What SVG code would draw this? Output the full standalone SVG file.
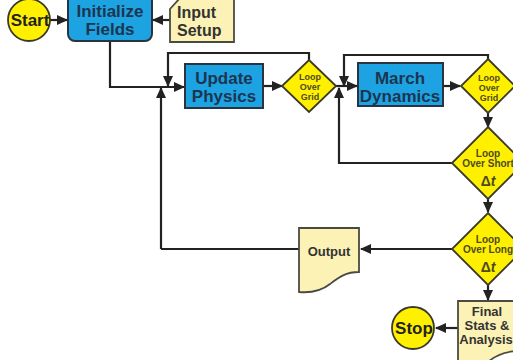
<svg xmlns="http://www.w3.org/2000/svg" width="513" height="360" viewBox="0 0 513 360">
<style>
.blue{fill:#1ea3e2;stroke:#2a3440;stroke-width:2}
.yel{fill:#fff000;stroke:#3a3a2a;stroke-width:1.8}
.pale{fill:#fcf2b5;stroke:#4a4a40;stroke-width:1.8}
.c{fill:none;stroke:#222;stroke-width:2.2}
.tb{font-family:"Liberation Sans",Arial,sans-serif;font-weight:bold;font-size:17px;fill:#1c3550;text-anchor:middle}
.tk{font-family:"Liberation Sans",Arial,sans-serif;font-weight:bold;fill:#222;text-anchor:middle}
.tp{font-family:"Liberation Sans",Arial,sans-serif;font-weight:bold;fill:#333;text-anchor:middle}
.ts{font-family:"Liberation Sans",Arial,sans-serif;font-weight:bold;font-size:16px;fill:#333;text-anchor:start}
.td{font-family:"Liberation Sans",Arial,sans-serif;font-weight:bold;fill:#4d4a22;text-anchor:middle}
</style>
<defs>
<marker id="ah" markerUnits="userSpaceOnUse" markerWidth="11" markerHeight="10" refX="10" refY="5" orient="auto">
<path d="M0,0 L11,5 L0,10 z" fill="#222"/>
</marker>
</defs>
<rect width="513" height="360" fill="#fff"/>
<g id="connectors">
<path class="c" d="M50,20 H67" marker-end="url(#ah)"/>
<path class="c" d="M170,20 H153" marker-end="url(#ah)"/>
<path class="c" d="M110,41 V87 H184" marker-end="url(#ah)"/>
<path class="c" d="M263,86 H282" marker-end="url(#ah)"/>
<path class="c" d="M309,60 V53 H168 V86" marker-end="url(#ah)"/>
<path class="c" d="M161,249 V88" marker-end="url(#ah)"/>
<path class="c" d="M336,86 H357" marker-end="url(#ah)"/>
<path class="c" d="M488,59 V55 H344 V86" marker-end="url(#ah)"/>
<path class="c" d="M443,86 H460" marker-end="url(#ah)"/>
<path class="c" d="M488,113 V127" marker-end="url(#ah)"/>
<path class="c" d="M452,163 H339 V88" marker-end="url(#ah)"/>
<path class="c" d="M488,199 V212" marker-end="url(#ah)"/>
<path class="c" d="M452,249 H361" marker-end="url(#ah)"/>
<path class="c" d="M299,249 H161"/>
<path class="c" d="M488,284 V300" marker-end="url(#ah)"/>
<path class="c" d="M458,328 H436" marker-end="url(#ah)"/>
</g>
<g id="start">
<circle cx="29" cy="20" r="21" class="yel"/>
<text class="tk" x="30" y="26" font-size="17">Start</text>
</g>
<g id="init">
<rect x="68" y="-6" width="84" height="47" rx="7" class="blue"/>
<text class="tb" x="110" y="17">Initialize</text>
<text class="tb" x="110" y="35">Fields</text>
</g>
<g id="input">
<path class="pale" d="M170,42 V9 L180,-2 H234 V42 Z"/>
<text class="ts" x="177" y="18">Input</text>
<text class="ts" x="177" y="36">Setup</text>
</g>
<g id="update">
<rect x="185" y="64" width="78" height="44" class="blue"/>
<text class="tb" x="224" y="84">Update</text>
<text class="tb" x="224" y="102">Physics</text>
</g>
<g id="grid1">
<path class="yel" d="M309,60 L336,86 L309,112 L282,86 Z"/>
<text class="td" x="310" y="80" font-size="9">Loop</text>
<text class="td" x="310" y="90" font-size="9">Over</text>
<text class="td" x="310" y="100" font-size="9">Grid</text>
</g>
<g id="march">
<rect x="358" y="63" width="85" height="43" class="blue"/>
<text class="tb" x="400" y="84">March</text>
<text class="tb" x="400" y="102">Dynamics</text>
</g>
<g id="grid2">
<path class="yel" d="M488,59 L515,86 L488,113 L461,86 Z"/>
<text class="td" x="489" y="81" font-size="9">Loop</text>
<text class="td" x="489" y="91" font-size="9">Over</text>
<text class="td" x="489" y="101" font-size="9">Grid</text>
</g>
<g id="short">
<path class="yel" d="M488,127 L524,163 L488,199 L452,163 Z"/>
<text class="td" x="488" y="157" font-size="10">Loop</text>
<text class="td" x="488" y="167" font-size="10">Over Short</text>
<text class="td" x="488" y="186" font-size="14">Δ<tspan font-style="italic">t</tspan></text>
</g>
<g id="long">
<path class="yel" d="M488,213 L524,249 L488,285 L452,249 Z"/>
<text class="td" x="488" y="243" font-size="10">Loop</text>
<text class="td" x="488" y="253" font-size="10">Over Long</text>
<text class="td" x="488" y="272" font-size="14">Δ<tspan font-style="italic">t</tspan></text>
</g>
<g id="output">
<path class="pale" d="M299,228 H359 V272 C345,272 338,278 330,284 C320,292 310,293 299,292 Z"/>
<text class="tp" x="329" y="256" font-size="13">Output</text>
</g>
<g id="final">
<path class="pale" d="M458,301 H520 V351 C505,351 496,355 488,362 L458,372 Z"/>
<text class="tp" x="487" y="316" font-size="13">Final</text>
<text class="tp" x="487" y="330" font-size="13">Stats &amp;</text>
<text class="tp" x="486" y="344" font-size="13">Analysis</text>
</g>
<g id="stop">
<circle cx="413" cy="328" r="21" class="yel"/>
<text class="tk" x="414" y="334" font-size="17">Stop</text>
</g>
</svg>
